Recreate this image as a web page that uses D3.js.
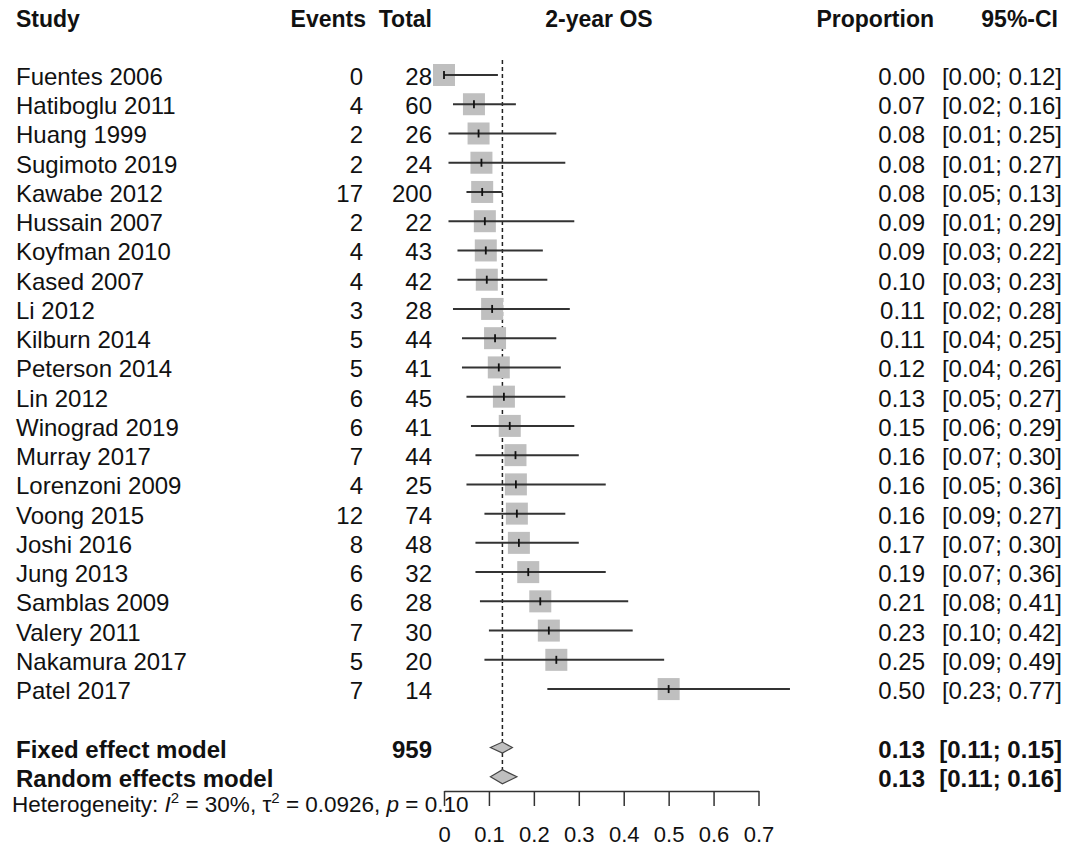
<!DOCTYPE html>
<html lang="en">
<head>
    <meta charset="UTF-8">
    <title>2-year OS forest plot</title>
    <script src="https://d3js.org/d3.v7.min.js"></script>
    <style>
        body { margin: 0; background: #fff; }
        text { font-family: "Liberation Sans", Arial, sans-serif; fill: #111; }
    </style>
</head>
<body>
<div id="chart"></div>
<script>
    // study data
    var studies = ["Fuentes 2006", "Hatiboglu 2011", "Huang 1999", "Sugimoto 2019", "Kawabe 2012",
        "Hussain 2007", "Koyfman 2010", "Kased 2007", "Li 2012", "Kilburn 2014", "Peterson 2014",
        "Lin 2012", "Winograd 2019", "Murray 2017", "Lorenzoni 2009", "Voong 2015", "Joshi 2016",
        "Jung 2013", "Samblas 2009", "Valery 2011", "Nakamura 2017", "Patel 2017"];
    var events = [0, 4, 2, 2, 17, 2, 4, 4, 3, 5, 5, 6, 6, 7, 4, 12, 8, 6, 6, 7, 5, 7];
    var totals = [28, 60, 26, 24, 200, 22, 43, 42, 28, 44, 41, 45, 41, 44, 25, 74, 48, 32, 28, 30, 20, 14];
    var props = [0.00, 0.07, 0.08, 0.08, 0.08, 0.09, 0.09, 0.10, 0.11, 0.11, 0.12, 0.13, 0.15, 0.16,
        0.16, 0.16, 0.17, 0.19, 0.21, 0.23, 0.25, 0.50];
    var lowers = [0.00, 0.02, 0.01, 0.01, 0.05, 0.01, 0.03, 0.03, 0.02, 0.04, 0.04, 0.05, 0.06, 0.07,
        0.05, 0.09, 0.07, 0.07, 0.08, 0.10, 0.09, 0.23];
    var uppers = [0.12, 0.16, 0.25, 0.27, 0.13, 0.29, 0.22, 0.23, 0.28, 0.25, 0.26, 0.27, 0.29, 0.30,
        0.36, 0.27, 0.30, 0.36, 0.41, 0.42, 0.49, 0.77];

    // pooled estimates
    var models = ["Fixed effect model", "Random effects model"];
    var modelEst = [0.13, 0.13];
    var modelLow = [0.11, 0.11];
    var modelHigh = [0.15, 0.16];
    var totalN = 959;

    var headers = ["Study", "Events", "Total", "2-year OS", "Proportion", "95%-CI"];
    var tickValues = [0, 0.1, 0.2, 0.3, 0.4, 0.5, 0.6, 0.7];

    var width = 1070, height = 852;
    var fs = 24;

    var svg = d3.select("#chart").append("svg")
        .attr("width", width)
        .attr("height", height);

    var x = d3.scaleLinear().domain([0, 0.7]).range([444, 758.5]);
    var y = d3.scaleLinear().domain([0, 24]).range([75, 776.8]);
    var f2 = d3.format(".2f");

    // header row
    var hx = [16, 366, 432, 599, 934, 1058];
    var ha = ["start", "end", "end", "middle", "end", "end"];
    svg.selectAll(".hdr").data(headers).enter().append("text")
        .attr("x", function (d, i) { return hx[i]; })
        .attr("y", 27)
        .attr("text-anchor", function (d, i) { return ha[i]; })
        .attr("font-weight", "bold")
        .attr("font-size", 23)
        .text(function (d) { return d; });

    // reference line at fixed estimate
    svg.append("line")
        .attr("x1", x(modelEst[0])).attr("x2", x(modelEst[0]))
        .attr("y1", 60).attr("y2", y(24) + 5)
        .attr("stroke", "#222")
        .attr("stroke-width", 1.5)
        .attr("stroke-dasharray", "4,3");

    // study rows
    var rows = svg.selectAll(".row").data(studies).enter().append("g")
        .attr("transform", function (d, i) { return "translate(0," + y(i) + ")"; });

    var by = 10;
    rows.append("text").attr("x", 16).attr("y", by).attr("font-size", fs)
        .text(function (d) { return d; });
    rows.append("text").attr("x", 363).attr("y", by).attr("font-size", fs).attr("text-anchor", "end")
        .text(function (d, i) { return events[i]; });
    rows.append("text").attr("x", 432).attr("y", by).attr("font-size", fs).attr("text-anchor", "end")
        .text(function (d, i) { return totals[i]; });
    rows.append("text").attr("x", 925).attr("y", by).attr("font-size", fs).attr("text-anchor", "end")
        .text(function (d, i) { return f2(props[i]); });
    rows.append("text").attr("x", 1062).attr("y", by).attr("font-size", fs).attr("text-anchor", "end")
        .text(function (d, i) { return "[" + f2(lowers[i]) + "; " + f2(uppers[i]) + "]"; });

    // squares
    var sq = 22;
    rows.append("rect")
        .attr("x", function (d, i) { return x(events[i] / totals[i]) - sq / 2; })
        .attr("y", -sq / 2)
        .attr("width", sq).attr("height", sq)
        .attr("fill", "#bfbfbf");

    // confidence intervals
    rows.append("line")
        .attr("x1", function (d, i) { return x(lowers[i]); })
        .attr("x2", function (d, i) { return x(uppers[i]); })
        .attr("y1", 0).attr("y2", 0)
        .attr("stroke", "#333").attr("stroke-width", 2);

    // point marks
    rows.append("line")
        .attr("x1", function (d, i) { return x(events[i] / totals[i]); })
        .attr("x2", function (d, i) { return x(events[i] / totals[i]); })
        .attr("y1", -4).attr("y2", 4)
        .attr("stroke", "#111").attr("stroke-width", 1.8);

    // pooled rows
    var pooled = svg.selectAll(".pool").data(models).enter().append("g")
        .attr("transform", function (d, i) { return "translate(0," + y(23 + i) + ")"; });

    pooled.append("text").attr("x", 16).attr("y", by).attr("font-size", fs).attr("font-weight", "bold")
        .text(function (d) { return d; });
    pooled.append("text").attr("x", 925).attr("y", by).attr("font-size", fs).attr("font-weight", "bold")
        .attr("text-anchor", "end")
        .text(function (d, i) { return f2(modelEst[i]); });
    pooled.append("text").attr("x", 1062).attr("y", by).attr("font-size", fs).attr("font-weight", "bold")
        .attr("text-anchor", "end")
        .text(function (d, i) { return "[" + f2(modelLow[i]) + "; " + f2(modelHigh[i]) + "]"; });

    svg.append("text").attr("x", 432).attr("y", y(23) + by).attr("font-size", fs).attr("font-weight", "bold")
        .attr("text-anchor", "end").text(totalN);

    var dh = [5.5, 7];
    pooled.append("path")
        .attr("d", function (d, i) {
            var lo = x(modelLow[i]) - 3, hi = x(modelHigh[i]) + 1, m = x(modelEst[i]);
            return "M" + lo + ",0L" + m + "," + (-dh[i]) + "L" + hi + ",0L" + m + "," + dh[i] + "Z";
        })
        .attr("fill", "#bfbfbf")
        .attr("stroke", "#444")
        .attr("stroke-width", 1.2);

    // heterogeneity line
    var het = svg.append("text").attr("x", 12).attr("y", 812).attr("font-size", 22.5);
    het.append("tspan").text("Heterogeneity: ");
    het.append("tspan").attr("font-style", "italic").text("I");
    het.append("tspan").attr("font-size", 15).attr("dy", -9).text("2");
    het.append("tspan").attr("dy", 9).text(" = 30%, \u03c4");
    het.append("tspan").attr("font-size", 15).attr("dy", -9).text("2");
    het.append("tspan").attr("dy", 9).text(" = 0.0926, ");
    het.append("tspan").attr("font-style", "italic").text("p");
    het.append("tspan").text(" = 0.10");

    // x axis
    var axis = svg.append("g")
        .attr("transform", "translate(0,791)")
        .call(d3.axisBottom(x)
            .tickValues(tickValues)
            .tickSize(15)
            .tickSizeOuter(0)
            .tickFormat(function (d) { return d === 0 ? "0" : d.toFixed(1); }));
    axis.select(".domain").attr("stroke", "#333").attr("stroke-width", 1.5);
    axis.selectAll(".tick line").attr("stroke", "#333").attr("stroke-width", 1.5);
    axis.selectAll(".tick text")
        .attr("y", 51).attr("dy", null)
        .attr("font-size", 22)
        .attr("font-family", "Liberation Sans, Arial, sans-serif")
        .attr("fill", "#111");
</script>
</body>
</html>
